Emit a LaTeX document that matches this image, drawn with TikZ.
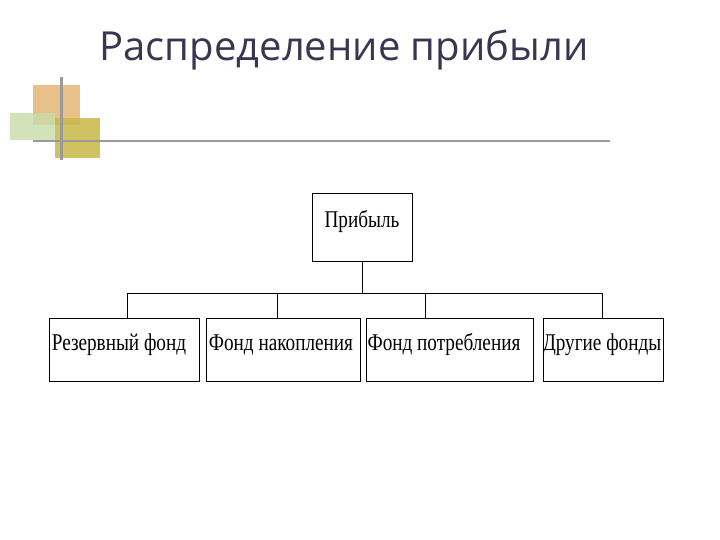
\documentclass[tikz,border=0pt]{standalone}
\usepackage{fontspec}
\setmainfont{Liberation Serif}
\newfontfamily\titlefont{Open Sans}
\newfontfamily\boxfont[FakeStretch=0.8]{Liberation Serif}
\definecolor{tcol}{HTML}{3A3550}
\definecolor{orsq}{HTML}{E8C08A}
\definecolor{grsq}{HTML}{C8DDA8}
\definecolor{olsq}{HTML}{C8B848}
\definecolor{lgray}{HTML}{9A9A9A}
\begin{document}
\begin{tikzpicture}[x=1pt,y=-1pt,
  fbox/.style={draw=black,line width=0.8pt,minimum height=63pt,inner sep=0pt},
  lbl/.style={font=\boxfont\fontsize{24}{24}\selectfont,inner sep=0pt,anchor=base},
  conn/.style={draw=black,line width=0.8pt}]
\useasboundingbox (0,0) rectangle (720,540);
\fill[white] (0,0) rectangle (720,540);
\fill[orsq] (33,85) rectangle (80,125);
\fill[grsq,opacity=0.8] (10,113) rectangle (55,140);
\fill[olsq,opacity=0.85] (55,118) rectangle (100,158);
\fill[lgray] (33,140) rectangle (610,142.5);
\fill[lgray] (60,77) rectangle (62.5,160);
\node[font=\titlefont\fontsize{40}{40}\selectfont,text=tcol,anchor=west] (title) at (96,50) {Распределение прибыли};
\node[fbox,minimum width=100pt,minimum height=68pt,anchor=north west] (p) at (312,193) {};
\node[fbox,minimum width=150pt,anchor=north west] (a) at (49,318) {};
\node[fbox,minimum width=154pt,anchor=north west] (b) at (206,318) {};
\node[fbox,minimum width=167pt,anchor=north west] (c) at (366,318) {};
\node[fbox,minimum width=120pt,anchor=north west] (d) at (543,318) {};
\node[lbl] (pl) at (362,228) {Прибыль};
\node[lbl] (al) at (119,350) {Резервный фонд};
\node[lbl] (bl2) at (281,350) {Фонд накопления};
\node[lbl] (cl) at (444,350) {Фонд потребления};
\node[lbl] (dl) at (602,350) {Другие фонды};
\coordinate (bl) at (127,293);
\coordinate (br) at (602,293);
\draw[conn] (p.south) -- (p.south |- bl);
\draw[conn] (bl) -- (br);
\draw[conn] (bl) -- (bl |- a.north);
\draw[conn] (277,293) -- (277,318);
\draw[conn] (425,293) -- (425,318);
\draw[conn] (br) -- (br |- d.north);
\end{tikzpicture}
\end{document}
